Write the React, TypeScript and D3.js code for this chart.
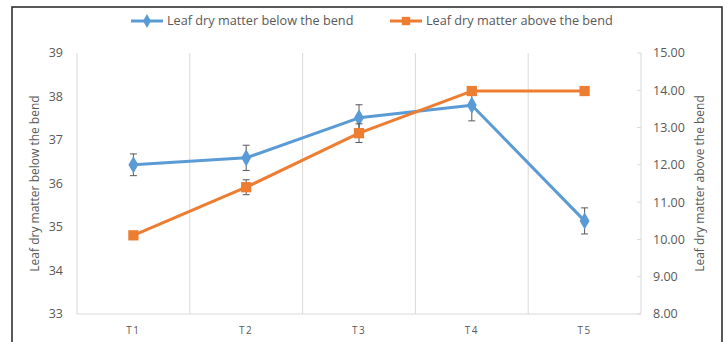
import React, { useEffect, useRef } from 'react';
import * as d3 from 'd3';

const categories = ['T1', 'T2', 'T3', 'T4', 'T5'];
const belowValues = [36.43, 36.59, 37.51, 37.8, 35.14];
const belowErrors = [0.25, 0.29, 0.3, 0.36, 0.3];
const aboveValues = [10.11, 11.4, 12.85, 13.98, 13.98];
const aboveErrors = [0.08, 0.2, 0.25, 0.08, 0.06];
const leftTicks = [33, 34, 35, 36, 37, 38, 39];
const rightTicks = [8, 9, 10, 11, 12, 13, 14, 15];
const belowName = 'Leaf dry matter below the bend';
const aboveName = 'Leaf dry matter above the bend';

const App = () => {
    const svgRef = useRef(null);

    useEffect(() => {
        const svg = d3.select(svgRef.current);
        svg.selectAll('*').remove();

        const font = "'Open Sans', 'Noto Sans', sans-serif";
        const grey = '#595959';
        const blue = '#5B9BD5';
        const orange = '#ED7D31';

        // plot area
        const left = 77, right = 641, top = 53, bottom = 314;

        const x = d3.scaleBand().domain(categories).range([left, right]);
        const yLeft = d3.scaleLinear().domain([33, 39]).range([bottom, top]);
        const yRight = d3.scaleLinear().domain([8, 15]).range([bottom, top]);

        // outer frame
        svg.append('rect')
            .attr('x', 12).attr('y', 7)
            .attr('width', 710).attr('height', 345)
            .attr('fill', 'white')
            .attr('stroke', '#222')
            .attr('stroke-width', 1.5);

        // vertical gridlines at category boundaries
        const bounds = categories.map((c) => x(c)).concat([right]);
        svg.append('g')
            .selectAll('line')
            .data(bounds)
            .enter()
            .append('line')
            .attr('x1', (d) => d).attr('x2', (d) => d)
            .attr('y1', top).attr('y2', bottom)
            .attr('stroke', '#D9D9D9')
            .attr('stroke-width', 1);

        // bottom axis line
        svg.append('line')
            .attr('x1', left).attr('x2', right)
            .attr('y1', bottom).attr('y2', bottom)
            .attr('stroke', '#D9D9D9');

        // right axis tick marks
        svg.append('g')
            .selectAll('line')
            .data(rightTicks)
            .enter()
            .append('line')
            .attr('x1', right - 4).attr('x2', right)
            .attr('y1', (d) => yRight(d)).attr('y2', (d) => yRight(d))
            .attr('stroke', '#D9D9D9');

        // left tick labels
        svg.append('g')
            .selectAll('text')
            .data(leftTicks)
            .enter()
            .append('text')
            .attr('x', 63)
            .attr('y', (d) => yLeft(d))
            .attr('dy', '0.35em')
            .attr('text-anchor', 'end')
            .attr('font-family', font)
            .attr('font-size', 12.5)
            .attr('fill', grey)
            .text((d) => d);

        // right tick labels
        svg.append('g')
            .selectAll('text')
            .data(rightTicks)
            .enter()
            .append('text')
            .attr('x', 653)
            .attr('y', (d) => yRight(d))
            .attr('dy', '0.35em')
            .attr('font-family', font)
            .attr('font-size', 12.5)
            .attr('fill', grey)
            .text((d) => d3.format('.2f')(d));

        // category labels
        svg.append('g')
            .selectAll('text')
            .data(categories)
            .enter()
            .append('text')
            .attr('x', (d) => x(d) + x.bandwidth() / 2)
            .attr('y', 334)
            .attr('text-anchor', 'middle')
            .attr('font-family', font)
            .attr('font-size', 10)
            .attr('letter-spacing', 1.5)
            .attr('fill', grey)
            .text((d) => d);

        // axis titles
        svg.append('text')
            .attr('transform', `translate(39,${(top + bottom) / 2}) rotate(-90)`)
            .attr('text-anchor', 'middle')
            .attr('font-family', font)
            .attr('font-size', 12)
            .attr('fill', grey)
            .text(belowName);

        svg.append('text')
            .attr('transform', `translate(704,${(top + bottom) / 2}) rotate(-90)`)
            .attr('text-anchor', 'middle')
            .attr('font-family', font)
            .attr('font-size', 12)
            .attr('fill', grey)
            .text(aboveName);

        const cx = (i) => x(categories[i]) + x.bandwidth() / 2;

        const drawSeries = (values, errors, scale, color, symbolType, size) => {
            const line = d3.line()
                .x((d, i) => cx(i))
                .y((d) => scale(d));

            svg.append('path')
                .datum(values)
                .attr('d', line)
                .attr('fill', 'none')
                .attr('stroke', color)
                .attr('stroke-width', 3)
                .attr('stroke-linejoin', 'round');

            const g = svg.append('g');
            values.forEach((v, i) => {
                const y1 = scale(v + errors[i]);
                const y2 = scale(v - errors[i]);
                g.append('line')
                    .attr('x1', cx(i)).attr('x2', cx(i))
                    .attr('y1', y1).attr('y2', y2)
                    .attr('stroke', grey).attr('stroke-width', 1);
                [y1, y2].forEach((yy) => {
                    g.append('line')
                        .attr('x1', cx(i) - 3.5).attr('x2', cx(i) + 3.5)
                        .attr('y1', yy).attr('y2', yy)
                        .attr('stroke', grey).attr('stroke-width', 1);
                });
            });

            svg.append('g')
                .selectAll('path')
                .data(values)
                .enter()
                .append('path')
                .attr('d', d3.symbol().type(symbolType).size(size))
                .attr('transform', (d, i) => `translate(${cx(i)},${scale(d)})`)
                .attr('fill', color);
        };

        drawSeries(belowValues, belowErrors, yLeft, blue, d3.symbolDiamond, 85);
        drawSeries(aboveValues, aboveErrors, yRight, orange, d3.symbolSquare, 105);

        // legend
        const legend = [
            { name: belowName, color: blue, symbol: d3.symbolDiamond, size: 55, x: 131 },
            { name: aboveName, color: orange, symbol: d3.symbolSquare, size: 70, x: 390 }
        ];
        legend.forEach((item) => {
            svg.append('line')
                .attr('x1', item.x).attr('x2', item.x + 32)
                .attr('y1', 21).attr('y2', 21)
                .attr('stroke', item.color)
                .attr('stroke-width', 3);
            svg.append('path')
                .attr('d', d3.symbol().type(item.symbol).size(item.size))
                .attr('transform', `translate(${item.x + 16},21)`)
                .attr('fill', item.color);
            svg.append('text')
                .attr('x', item.x + 36)
                .attr('y', 21)
                .attr('dy', '0.35em')
                .attr('font-family', font)
                .attr('font-size', 12.7)
                .attr('fill', grey)
                .text(item.name);
        });
    }, []);

    return (
        <svg
            ref={svgRef}
            width={728}
            height={342}
            style={{ position: 'absolute', left: 0, top: 0, display: 'block' }}
        ></svg>
    );
};

export default App;
